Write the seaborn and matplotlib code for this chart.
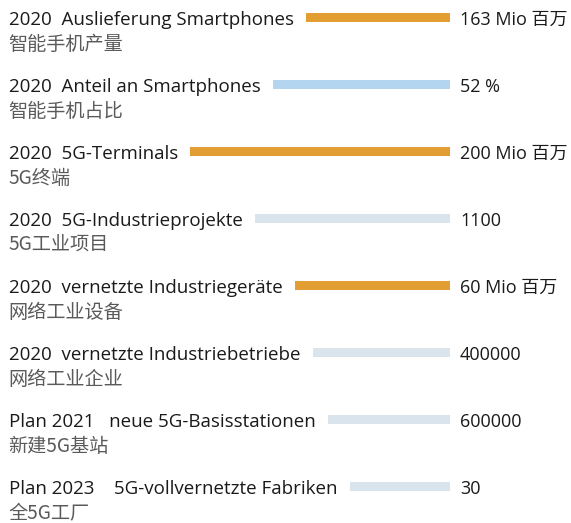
import matplotlib
matplotlib.use("Agg")
import matplotlib.pyplot as plt
import seaborn as sns

# Daten
labels_de = [
    "2020  Auslieferung Smartphones",
    "2020  Anteil an Smartphones",
    "2020  5G-Terminals",
    "2020  5G-Industrieprojekte",
    "2020  vernetzte Industriegeräte",
    "2020  vernetzte Industriebetriebe",
    "Plan 2021   neue 5G-Basisstationen",
    "Plan 2023    5G-vollvernetzte Fabriken",
]
labels_zh = [
    "智能手机产量",
    "智能手机占比",
    "5G终端",
    "5G工业项目",
    "网络工业设备",
    "网络工业企业",
    "新建5G基站",
    "全5G工厂",
]
values = [
    "163 Mio 百万",
    "52 %",
    "200 Mio 百万",
    "1100",
    "60 Mio 百万",
    "400000",
    "600000",
    "30",
]
kinds = ["mio", "pct", "mio", "count", "mio", "count", "count", "count"]

colors = {"mio": "#E39E33", "pct": "#B3D5F0", "count": "#DAE4EC"}

sns.set_theme(style="white")
plt.rcParams["font.family"] = ["Open Sans", "Noto Sans CJK SC", "DejaVu Sans"]

W, H = 571, 523
fig = plt.figure(figsize=(W / 100, H / 100), dpi=100)
ax = fig.add_axes([0, 0, 1, 1])
ax.set_xlim(0, W)
ax.set_ylim(H, 0)
ax.axis("off")

x_text = 9
x_bar_end = 450
x_value = 460
row_gap = 67
first_base = 25

de_texts = []
for i, (de, zh, val) in enumerate(zip(labels_de, labels_zh, values)):
    base = first_base + i * row_gap
    t = ax.text(x_text, base, de, fontsize=13.5, color="#1a1a1a", va="baseline", ha="left")
    de_texts.append(t)
    ax.text(x_text - 1, base + 19.5, zh, fontsize=13.8, color="#5a5a5a", va="center", ha="left",
            family=["Noto Sans CJK SC", "DejaVu Sans"], fontweight="light")
    ax.text(x_value, base, val, fontsize=13, color="#1a1a1a", va="baseline", ha="left",
            family=["Open Sans", "Noto Sans CJK SC"])

# Balken beginnen nach dem Text
fig.canvas.draw()
renderer = fig.canvas.get_renderer()
inv = ax.transData.inverted()
for i, (t, kind) in enumerate(zip(de_texts, kinds)):
    bb = t.get_window_extent(renderer)
    right = inv.transform((bb.x1, bb.y0))[0]
    left = right + 12
    yc = first_base + i * row_gap - 7.5
    ax.barh(yc, x_bar_end - left, left=left, height=9, color=colors[kind], linewidth=0)

fig.savefig("out.png", dpi=100)
